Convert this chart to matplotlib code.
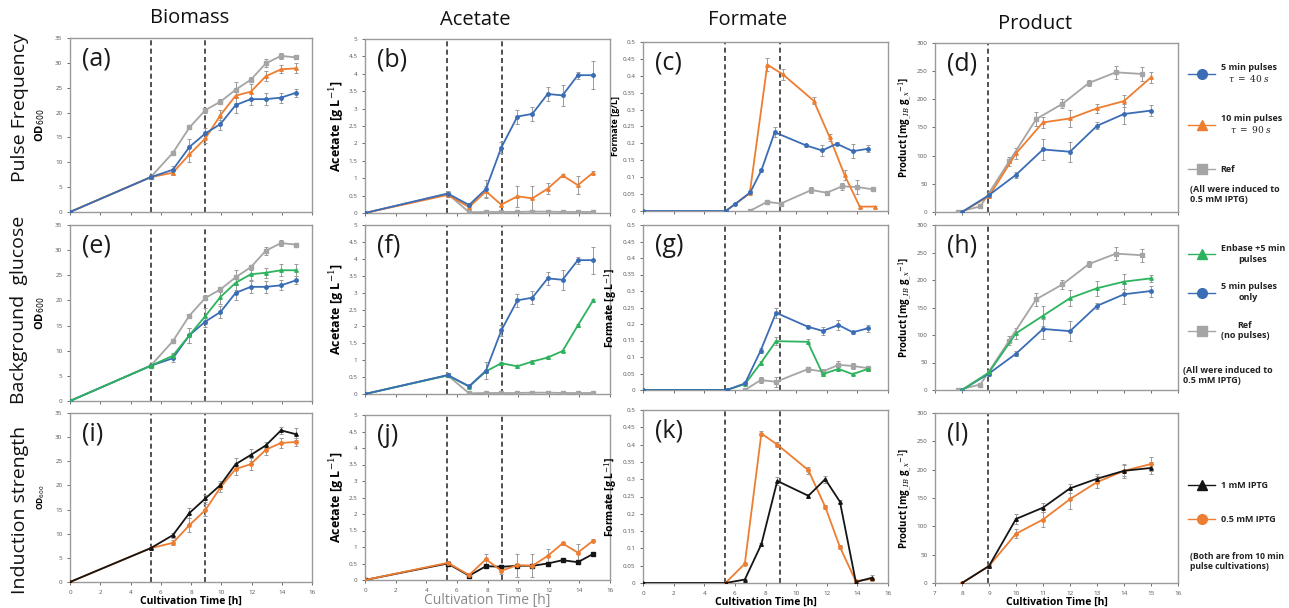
import matplotlib
matplotlib.use("Agg")
import matplotlib.pyplot as plt
from matplotlib.lines import Line2D
from matplotlib.ticker import MultipleLocator, FuncFormatter

plt.rcParams['font.family'] = ['Open Sans', 'DejaVu Sans']
plt.rcParams['mathtext.fontset'] = 'dejavuserif'

BLUE = '#3a6db5'
ORANGE = '#ed7d31'
GREY = '#a5a5a5'
GREEN = '#2db35d'
BLACK = '#151515'
ERR = '#9a9a9a'

FEED_START = 5.35
INDUCTION = 8.95

# ---- Biomass (OD600) ----
t_od = [0, 5.33, 6.8, 7.9, 8.95, 9.95, 10.95, 11.95, 12.95, 13.95, 14.95]
od_5min = [0, 7.0, 8.5, 13.1, 15.8, 17.7, 21.5, 22.7, 22.7, 23.0, 24.0]
od_5min_err = [0, 0.3, 0.8, 1.5, 1.0, 1.2, 1.5, 1.2, 1.2, 1.0, 0.8]
od_10min = [0, 7.0, 7.9, 11.6, 14.8, 19.5, 23.4, 24.2, 27.3, 28.7, 28.9]
od_10min_err = [0, 0.3, 0.5, 1.5, 1.0, 1.0, 1.5, 1.5, 1.0, 0.8, 1.0]
od_ref = [0, 7.0, 11.9, 17.0, 20.5, 22.2, 24.6, 26.6, 29.9, 31.4, 31.1]
od_ref_err = [0, 0.3, 0.4, 0.4, 0.5, 0.5, 1.5, 0.5, 0.8, 0.6, 0.4]
od_enbase = [0, 7.0, 9.0, 13.1, 16.9, 20.7, 23.5, 25.2, 25.5, 26.0, 26.0]
od_enbase_err = [0, 0.3, 0.5, 1.5, 1.5, 1.5, 1.5, 1.2, 1.0, 1.2, 1.2]
od_1mM = [0, 7.0, 9.7, 14.3, 17.3, 20.1, 24.4, 26.3, 28.3, 31.4, 30.6]
od_1mM_err = [0, 0.3, 0.5, 1.0, 0.7, 0.8, 1.2, 1.2, 0.6, 0.8, 1.2]
od_05mM = [0, 7.0, 8.1, 11.8, 14.9, 19.6, 23.4, 24.4, 27.4, 28.8, 29.0]
od_05mM_err = [0, 0.3, 0.5, 1.5, 1.2, 1.0, 1.2, 1.2, 1.0, 1.0, 0.8]

# ---- Acetate [g/L] ----
t_ac = [0, 5.4, 6.8, 7.9, 8.9, 9.95, 10.93, 11.93, 12.9, 13.9, 14.9]
ac_5min = [0, 0.56, 0.23, 0.69, 1.88, 2.77, 2.85, 3.42, 3.38, 3.96, 3.96]
ac_5min_err = [0, 0.06, 0.05, 0.25, 0.15, 0.2, 0.2, 0.2, 0.3, 0.1, 0.4]
ac_10min = [0, 0.52, 0.17, 0.62, 0.24, 0.48, 0.42, 0.7, 1.08, 0.8, 1.16]
ac_10min_err = [0, 0.05, 0.05, 0.15, 0.05, 0.3, 0.35, 0.15, 0.05, 0.25, 0.05]
ac_ref = [0, 0.55, 0.02, 0.03, 0.03, 0.03, 0.04, 0.04, 0.03, 0.03, 0.03]
ac_ref_err = [0, 0.05, 0.01, 0.01, 0.01, 0.01, 0.02, 0.01, 0.01, 0.01, 0.01]
ac_enbase = [0, 0.55, 0.22, 0.67, 0.91, 0.82, 0.96, 1.08, 1.27, 2.03, 2.77]
ac_enbase_err = [0, 0.05, 0.04, 0.05, 0.05, 0.04, 0.04, 0.04, 0.04, 0.05, 0.05]
ac_1mM = [0, 0.5, 0.13, 0.42, 0.4, 0.43, 0.43, 0.5, 0.6, 0.54, 0.79]
ac_1mM_err = [0, 0.04, 0.03, 0.04, 0.04, 0.04, 0.04, 0.04, 0.04, 0.04, 0.04]
ac_05mM = [0, 0.52, 0.15, 0.63, 0.28, 0.45, 0.43, 0.73, 1.11, 0.83, 1.19]
ac_05mM_err = [0, 0.05, 0.05, 0.15, 0.1, 0.35, 0.35, 0.2, 0.05, 0.25, 0.05]

# ---- Formate [g/L] ----
t_fc_5min = [0, 5.4, 6.0, 7.0, 7.73, 8.6, 10.65, 11.7, 12.65, 13.7, 14.7]
fc_5min = [0, 0, 0.02, 0.055, 0.12, 0.233, 0.194, 0.179, 0.199, 0.177, 0.184]
fc_5min_err = [0, 0, 0.003, 0.005, 0.005, 0.015, 0.005, 0.015, 0.005, 0.02, 0.01]
t_fc_10min = [5.4, 6.97, 8.12, 9.14, 11.15, 12.19, 13.17, 14.15, 15.13]
fc_10min = [0, 0.052, 0.433, 0.404, 0.326, 0.218, 0.106, 0.013, 0.013]
fc_10min_err = [0, 0.003, 0.02, 0.015, 0.01, 0.01, 0.015, 0.003, 0.003]
t_fc_ref = [6.97, 8.1, 9.0, 11.0, 12.0, 13.0, 14.0, 15.0]
fc_ref = [0, 0.027, 0.022, 0.062, 0.054, 0.073, 0.071, 0.064]
fc_ref_err = [0, 0.005, 0.005, 0.008, 0.005, 0.01, 0.02, 0.005]

t_fg = [0, 5.47, 6.66, 7.68, 8.69, 10.75, 11.74, 12.76, 13.69, 14.7]
fg_5min = [0, 0, 0.02, 0.119, 0.234, 0.192, 0.179, 0.197, 0.175, 0.187]
fg_5min_err = [0, 0, 0.004, 0.008, 0.015, 0.005, 0.012, 0.015, 0.005, 0.01]
fg_enbase = [0, 0, 0.018, 0.081, 0.148, 0.146, 0.048, 0.064, 0.048, 0.064]
fg_enbase_err = [0, 0, 0.003, 0.006, 0.012, 0.008, 0.006, 0.006, 0.004, 0.006]
t_fg_ref = [6.66, 7.68, 8.69, 10.75, 11.74, 12.76, 13.69, 14.7]
fg_ref = [0, 0.03, 0.025, 0.063, 0.056, 0.076, 0.073, 0.066]
fg_ref_err = [0, 0.01, 0.015, 0.008, 0.008, 0.012, 0.008, 0.008]

t_fk_1mM = [0, 5.39, 6.65, 7.73, 8.77, 10.8, 11.9, 12.86, 13.9, 14.94]
fk_1mM = [0, 0, 0.01, 0.112, 0.295, 0.252, 0.3, 0.235, 0.003, 0.015]
fk_1mM_err = [0, 0, 0.002, 0.005, 0.012, 0.005, 0.01, 0.005, 0.003, 0.008]
t_fk_05mM = [5.39, 6.65, 7.73, 8.77, 10.8, 11.9, 12.86, 13.9, 14.94]
fk_05mM = [0, 0.056, 0.432, 0.40, 0.326, 0.22, 0.104, 0.005, 0.012]
fk_05mM_err = [0, 0.004, 0.008, 0.008, 0.01, 0.005, 0.005, 0.003, 0.003]

# ---- Product [mg_IB / g_x] ----
t_pr = [8, 9, 10, 11, 12, 13, 14, 15]
pr_5min = [0, 30, 66, 111, 107, 153, 174, 180]
pr_5min_err = [0, 4, 5, 18, 18, 6, 18, 10]
pr_10min = [0, 28, 104, 159, 166, 184, 197, 239]
pr_10min_err = [0, 4, 10, 10, 15, 8, 10, 10]
t_pr_ref = [7.85, 8.68, 9.75, 10.75, 11.72, 12.7, 13.7, 14.66]
pr_ref = [0, 10, 90, 165, 192, 229, 248, 245]
pr_ref_err = [0, 3, 8, 12, 8, 6, 12, 12]
pr_enbase = [0, 32, 103, 135, 167, 185, 197, 203]
pr_enbase_err = [0, 4, 10, 18, 15, 14, 14, 6]
pr_1mM = [0, 30, 113, 133, 167, 184, 198, 203]
pr_1mM_err = [0, 4, 8, 8, 8, 8, 10, 10]
pr_05mM = [0, 30, 87, 112, 148, 178, 198, 210]
pr_05mM_err = [0, 4, 8, 14, 18, 10, 12, 12]

col_titles = ['Biomass', 'Acetate', 'Formate', 'Product']
row_titles = ['Pulse Frequency', 'Background  glucose', 'Induction strength']
letters = ['(a)', '(b)', '(c)', '(d)', '(e)', '(f)', '(g)', '(h)', '(i)', '(j)', '(k)', '(l)']

W, H = 1289, 608
fig = plt.figure(figsize=(W / 100, H / 100), dpi=100)

# panel boxes in pixels: left, top, right, bottom
boxes = [
    [(70, 38, 312, 212), (365, 39, 610, 213), (643, 42, 888, 211), (935, 43, 1178, 212)],
    [(70, 225, 312, 401), (365, 225, 610, 394), (643, 225, 888, 390), (935, 225, 1178, 390)],
    [(70, 413, 312, 582), (365, 415, 610, 580), (643, 410, 888, 583), (935, 413, 1178, 583)],
]


def make_ax(l, t, r, b):
    return fig.add_axes([l / W, 1 - b / H, (r - l) / W, (b - t) / H])


def series(ax, t, y, err, color, marker, ms=2.5):
    ax.errorbar(t, y, yerr=err, color=color, marker=marker, ms=ms, lw=1.3,
                ecolor=ERR, elinewidth=0.7, capsize=1.5, capthick=0.7, zorder=3)


fmt = FuncFormatter(lambda v, p: '{:g}'.format(round(v, 3)))
axes = []
for r in range(3):
    for c in range(4):
        ax = make_ax(*boxes[r][c])
        axes.append(ax)
        for s in ax.spines.values():
            s.set_color('#9a9a9a')
            s.set_linewidth(1.0)
        ax.tick_params(labelsize=4.5, colors='#555555', length=2, width=0.6)
        if c < 3:
            ax.set_xlim(0, 16)
            ax.xaxis.set_major_locator(MultipleLocator(2))
            ax.axvline(FEED_START, color='#333333', ls=(0, (3, 2)), lw=1.2, zorder=2)
        else:
            ax.set_xlim(7, 16)
            ax.xaxis.set_major_locator(MultipleLocator(1))
        ax.axvline(INDUCTION, color='#333333', ls=(0, (3, 2)), lw=1.2, zorder=2)
        if c == 0:
            ax.set_ylim(0, 35)
            ax.yaxis.set_major_locator(MultipleLocator(5))
        elif c == 1:
            ax.set_ylim(0, 5)
            ax.yaxis.set_major_locator(MultipleLocator(0.5))
        elif c == 2:
            ax.set_ylim(0, 0.5)
            ax.yaxis.set_major_locator(MultipleLocator(0.05))
        else:
            ax.set_ylim(0, 300)
            ax.yaxis.set_major_locator(MultipleLocator(50))
        ax.yaxis.set_major_formatter(fmt)
        ax.xaxis.set_major_formatter(fmt)
        if r < 2:
            ax.tick_params(axis='x', labelbottom=False)
        ax.text(0.05, 0.95, letters[r * 4 + c], transform=ax.transAxes,
                va='top', ha='left', fontsize=18, color='#1a1a1a')

a, b, cc, d, e, f, g, h, i, j, k, l = axes

# row 1: pulse frequency
series(a, t_od, od_ref, od_ref_err, GREY, 's')
series(a, t_od, od_10min, od_10min_err, ORANGE, '^')
series(a, t_od, od_5min, od_5min_err, BLUE, 'o')
series(b, t_ac, ac_ref, ac_ref_err, GREY, 's')
series(b, t_ac, ac_10min, ac_10min_err, ORANGE, '^')
series(b, t_ac, ac_5min, ac_5min_err, BLUE, 'o')
series(cc, t_fc_ref, fc_ref, fc_ref_err, GREY, 's')
series(cc, t_fc_10min, fc_10min, fc_10min_err, ORANGE, '^')
series(cc, t_fc_5min, fc_5min, fc_5min_err, BLUE, 'o')
series(d, t_pr_ref, pr_ref, pr_ref_err, GREY, 's')
series(d, t_pr, pr_10min, pr_10min_err, ORANGE, '^')
series(d, t_pr, pr_5min, pr_5min_err, BLUE, 'o')

# row 2: background glucose
series(e, t_od, od_ref, od_ref_err, GREY, 's')
series(e, t_od, od_5min, od_5min_err, BLUE, 'o')
series(e, t_od, od_enbase, od_enbase_err, GREEN, '^')
series(f, t_ac, ac_ref, ac_ref_err, GREY, 's')
series(f, t_ac, ac_enbase, ac_enbase_err, GREEN, '^')
series(f, t_ac, ac_5min, ac_5min_err, BLUE, 'o')
series(g, t_fg_ref, fg_ref, fg_ref_err, GREY, 's')
series(g, t_fg, fg_enbase, fg_enbase_err, GREEN, '^')
series(g, t_fg, fg_5min, fg_5min_err, BLUE, 'o')
series(h, t_pr_ref, pr_ref, pr_ref_err, GREY, 's')
series(h, t_pr, pr_5min, pr_5min_err, BLUE, 'o')
series(h, t_pr, pr_enbase, pr_enbase_err, GREEN, '^')

# row 3: induction strength
series(i, t_od, od_05mM, od_05mM_err, ORANGE, 'o')
series(i, t_od, od_1mM, od_1mM_err, BLACK, '^')
series(j, t_ac, ac_1mM, ac_1mM_err, BLACK, 's')
series(j, t_ac, ac_05mM, ac_05mM_err, ORANGE, 'o')
series(k, t_fk_05mM, fk_05mM, fk_05mM_err, ORANGE, 'o')
series(k, t_fk_1mM, fk_1mM, fk_1mM_err, BLACK, '^')
series(l, t_pr, pr_05mM, pr_05mM_err, ORANGE, 'o')
series(l, t_pr, pr_1mM, pr_1mM_err, BLACK, '^')

# axis labels
od_label = r'OD$_{\mathsf{600}}$'
a.set_ylabel(od_label, fontsize=8, weight='bold', labelpad=6)
e.set_ylabel(od_label, fontsize=8, weight='bold', labelpad=6)
i.set_ylabel(od_label, fontsize=6, weight='bold', labelpad=6)
for ax in (b, f, j):
    ax.set_ylabel(r'Acetate [g L$^{-1}$]', fontsize=9, weight='bold', labelpad=2)
cc.set_ylabel('Formate [g/L]', fontsize=6.5, weight='bold', labelpad=2)
for ax in (g, k):
    ax.set_ylabel(r'Formate [g L$^{-1}$]', fontsize=7.5, weight='bold', labelpad=2)
for ax in (d, h, l):
    ax.set_ylabel(r'Product [mg$_{\_IB}$ g$_{\_x}$$^{-1}$]', fontsize=7, weight='bold', labelpad=2)
for ax in (i, k, l):
    ax.set_xlabel('Cultivation Time [h]', fontsize=7.5, weight='bold', labelpad=1)
j.set_xlabel('Cultivation Time [h]', fontsize=10, color='#8a8a8a', labelpad=0)

# column and row titles
for (x, y), txt in zip([(190, 18), (475, 20), (748, 20), (1035, 24)], col_titles):
    fig.text(x / W, 1 - y / H, txt, ha='center', va='center', fontsize=14.5, color='#111111')
for (x, y), txt in zip([(20, 108), (19, 310), (20, 510)], row_titles):
    fig.text(x / W, 1 - y / H, txt, ha='center', va='center', rotation=90,
             fontsize=14, color='#111111')


def legend(handles, labels, x, y, spacing):
    leg = fig.legend(handles, labels, loc='upper left', bbox_to_anchor=(x / W, 1 - y / H),
                     frameon=False, handlelength=3.0, handletextpad=0.6,
                     labelspacing=spacing, prop={'size': 6.5, 'weight': 'bold'})
    for t in leg.get_texts():
        t.set_multialignment('center')
        t.set_color('#222222')
    return leg


def handle(color, marker):
    return Line2D([], [], color=color, marker=marker, ms=7, lw=1.0)


legend([handle(BLUE, 'o'), handle(ORANGE, '^'), handle(GREY, 's')],
       ['5 min pulses\n' + r'$\tau\ =\ 40\ s$', '10 min pulses\n' + r'$\tau\ =\ 90\ s$', 'Ref'],
       1180, 55, 3.3)
fig.text(1190 / W, 1 - 185 / H, '(All were induced to\n0.5 mM IPTG)', fontsize=6.5,
         weight='bold', va='top', color='#222222')

legend([handle(GREEN, '^'), handle(BLUE, 'o'), handle(GREY, 's')],
       ['Enbase +5 min\npulses', '5 min pulses\nonly', 'Ref\n(no pulses)'],
       1180, 236, 2.1)
fig.text(1183 / W, 1 - 366 / H, '(All were induced to\n0.5 mM IPTG)', fontsize=6.5,
         weight='bold', va='top', color='#222222')

legend([handle(BLACK, '^'), handle(ORANGE, 'o')], ['1 mM IPTG', '0.5 mM IPTG'],
       1180, 473, 2.8)
fig.text(1190 / W, 1 - 552 / H, '(Both are from 10 min\npulse cultivations)', fontsize=6.2,
         weight='bold', va='top', color='#222222')

fig.savefig('out.png', dpi=100)
